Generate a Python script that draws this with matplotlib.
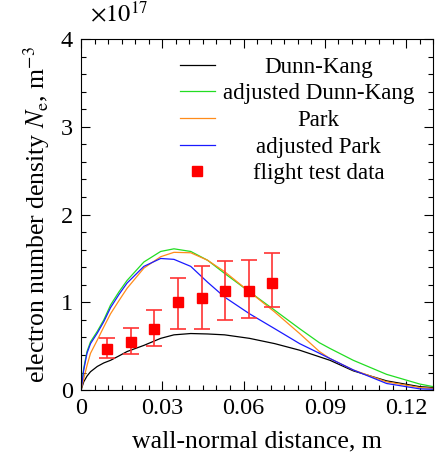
import numpy as np
import matplotlib
matplotlib.use('Agg')
import matplotlib.pyplot as plt
from matplotlib.ticker import MultipleLocator

plt.rcParams['font.family'] = ['Liberation Serif', 'DejaVu Serif']
plt.rcParams['mathtext.fontset'] = 'stix'
plt.rcParams['font.size'] = 17.5

dist = [0, 0.001, 0.0022, 0.0035, 0.006, 0.0084, 0.0109, 0.014, 0.017, 0.0232,
        0.0294, 0.0343, 0.0405, 0.0467, 0.053, 0.0622, 0.0715, 0.0807, 0.088,
        0.0919, 0.1005, 0.1128, 0.125, 0.130]

# electron number density, x1e17 m^-3
dunn_kang = [0, 0.095, 0.16, 0.21, 0.27, 0.31, 0.34, 0.39, 0.44, 0.51, 0.59, 0.63,
             0.645, 0.64, 0.63, 0.59, 0.53, 0.455, 0.38, 0.34, 0.22, 0.106, 0.04, 0.03]
adj_dunn_kang = [0, 0.25, 0.44, 0.55, 0.67, 0.80, 0.97, 1.12, 1.25, 1.46, 1.58, 1.61,
                 1.58, 1.48, 1.33, 1.12, 0.91, 0.70, 0.54, 0.475, 0.34, 0.18, 0.07, 0.04]
park = [0, 0.13, 0.28, 0.42, 0.57, 0.72, 0.87, 1.02, 1.16, 1.39, 1.52, 1.57,
        1.565, 1.48, 1.35, 1.12, 0.89, 0.645, 0.44, 0.36, 0.23, 0.095, 0.03, 0.02]
adj_park = [0, 0.23, 0.42, 0.53, 0.65, 0.78, 0.94, 1.09, 1.22, 1.41, 1.50, 1.49,
            1.41, 1.23, 1.06, 0.87, 0.70, 0.53, 0.42, 0.36, 0.23, 0.076, 0.015, 0.01]

# flight test data (x1e17 m^-3)
flight_x = [0.0097, 0.0183, 0.027, 0.0357, 0.0446, 0.0532, 0.062, 0.0706]
flight_y = [0.47, 0.55, 0.70, 1.00, 1.05, 1.13, 1.13, 1.22]
flight_lo = [0.37, 0.41, 0.50, 0.70, 0.70, 0.80, 0.82, 0.95]
flight_hi = [0.59, 0.71, 0.91, 1.28, 1.41, 1.47, 1.48, 1.56]

fig = plt.figure(figsize=(4.38, 4.59), dpi=100)
ax = fig.add_axes([0.185, 0.150, 0.804, 0.765])

ax.plot(dist, dunn_kang, color='black', lw=0.9, label='Dunn-Kang')
ax.plot(dist, adj_dunn_kang, color='#22dd22', lw=0.9, label='adjusted Dunn-Kang')
ax.plot(dist, park, color='#ff8c1a', lw=0.9, label='Park')
ax.plot(dist, adj_park, color='#1a1aff', lw=0.9, label='adjusted Park')

fy = np.array(flight_y)
yerr = [fy - np.array(flight_lo), np.array(flight_hi) - fy]
ax.errorbar(flight_x, fy, yerr=yerr, fmt='none', ecolor='#ff3333', elinewidth=1.2,
            capsize=5.5, capthick=1.2)
ax.plot(flight_x, fy, 's', color='#ff0000', ms=7.5, label='flight test data')

ax.set_xlim(0, 0.13)
ax.set_ylim(0, 4)
ax.set_xticks([0, 0.03, 0.06, 0.09, 0.12])
ax.set_xticklabels(['0', '0.03', '0.06', '0.09', '0.12'])
ax.set_yticks([0, 1, 2, 3, 4])
ax.set_yticklabels(['0', '1', '2', '3', '4'])
ax.xaxis.set_minor_locator(MultipleLocator(0.005))
ax.yaxis.set_minor_locator(MultipleLocator(0.2))
ax.tick_params(which='both', direction='in', top=True, right=True)
ax.tick_params(which='major', length=6.5, width=0.8, pad=6)
ax.tick_params(which='minor', length=3.5, width=0.8)

ax.text(0.025, 1.035, r'$\times10^{17}$', transform=ax.transAxes,
        ha='left', va='bottom', fontsize=17.5)

ax.set_xlabel('wall-normal distance, m', fontsize=18.5, labelpad=8)
ax.set_ylabel(r'electron number density $N_\mathrm{e}$, m$^{-3}$', fontsize=18.5,
              labelpad=6)

leg = ax.legend(loc='upper left', bbox_to_anchor=(0.281, 0.95), frameon=False,
                fontsize=16.6, handlelength=1.5, handletextpad=0.35,
                labelspacing=0.24, borderpad=0, borderaxespad=0)

# centre the legend texts on each other
fig.canvas.draw()
r = fig.canvas.get_renderer()
texts = leg.get_texts()
widths = [t.get_window_extent(r).width for t in texts]
wmax = max(widths)
for t, w in zip(texts, widths):
    t.set_x((wmax - w) / 2)

fig.savefig('out.png', dpi=100)
